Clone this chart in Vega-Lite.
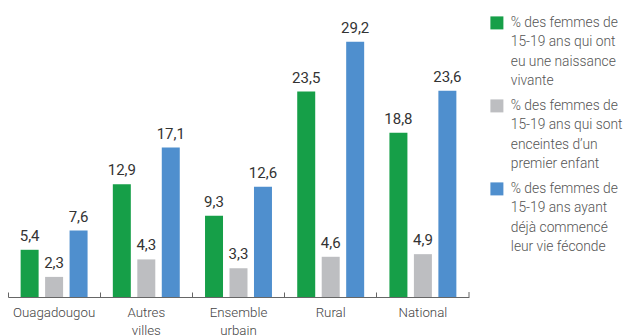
{
  "$schema": "https://vega.github.io/schema/vega-lite/v6.json",
  "width": 461,
  "height": 271,
  "autosize": {"type": "none"},
  "padding": {"left": 8, "top": 26, "right": 158, "bottom": 39},
  "config": {
    "view": {"stroke": null},
    "font": "Roboto",
    "locale": {"number": {"decimal": ",", "thousands": ".", "grouping": [3], "currency": ["", " €"]}}
  },
  "data": {
    "values": [
      {"zone": "Ouagadougou", "serie": "% des femmes de|15-19 ans qui ont|eu une naissance|vivante", "v": 5.4},
      {"zone": "Ouagadougou", "serie": "% des femmes de|15-19 ans qui sont|enceintes d’un|premier enfant", "v": 2.3},
      {"zone": "Ouagadougou", "serie": "% des femmes de|15-19 ans ayant|déjà commencé|leur vie féconde", "v": 7.6},
      {"zone": "Autres villes", "serie": "% des femmes de|15-19 ans qui ont|eu une naissance|vivante", "v": 12.9},
      {"zone": "Autres villes", "serie": "% des femmes de|15-19 ans qui sont|enceintes d’un|premier enfant", "v": 4.3},
      {"zone": "Autres villes", "serie": "% des femmes de|15-19 ans ayant|déjà commencé|leur vie féconde", "v": 17.1},
      {"zone": "Ensemble urbain", "serie": "% des femmes de|15-19 ans qui ont|eu une naissance|vivante", "v": 9.3},
      {"zone": "Ensemble urbain", "serie": "% des femmes de|15-19 ans qui sont|enceintes d’un|premier enfant", "v": 3.3},
      {"zone": "Ensemble urbain", "serie": "% des femmes de|15-19 ans ayant|déjà commencé|leur vie féconde", "v": 12.6},
      {"zone": "Rural", "serie": "% des femmes de|15-19 ans qui ont|eu une naissance|vivante", "v": 23.5},
      {"zone": "Rural", "serie": "% des femmes de|15-19 ans qui sont|enceintes d’un|premier enfant", "v": 4.6},
      {"zone": "Rural", "serie": "% des femmes de|15-19 ans ayant|déjà commencé|leur vie féconde", "v": 29.2},
      {"zone": "National", "serie": "% des femmes de|15-19 ans qui ont|eu une naissance|vivante", "v": 18.8},
      {"zone": "National", "serie": "% des femmes de|15-19 ans qui sont|enceintes d’un|premier enfant", "v": 4.9},
      {"zone": "National", "serie": "% des femmes de|15-19 ans ayant|déjà commencé|leur vie féconde", "v": 23.6}
    ]
  },
  "encoding": {
    "x": {
      "field": "zone",
      "type": "nominal",
      "sort": null,
      "scale": {"paddingInner": 0, "paddingOuter": 0},
      "axis": {
        "title": null,
        "bandPosition": 0,
        "labelAngle": 0,
        "domainColor": "#666666",
        "tickColor": "#666666",
        "tickSize": -5,
        "labelPadding": 13,
        "labelFontSize": 13.3,
        "labelFontWeight": 300,
        "labelColor": "#444444",
        "labelLineHeight": 18,
        "labelExpr": "datum.label == 'Autres villes' ? ['Autres', 'villes'] : datum.label == 'Ensemble urbain' ? ['Ensemble', 'urbain'] : datum.label"
      }
    }
  },
  "layer": [
    {
      "mark": {"type": "bar"},
      "encoding": {
        "xOffset": {"field": "serie", "type": "nominal", "sort": null, "scale": {"paddingInner": 0.265, "paddingOuter": 0.516}},
        "y": {"field": "v", "type": "quantitative", "scale": {"domain": [0, 31], "nice": false}, "axis": null},
        "color": {
          "field": "serie",
          "type": "nominal",
          "sort": null,
          "scale": {
            "domain": [
              "% des femmes de|15-19 ans qui ont|eu une naissance|vivante",
              "% des femmes de|15-19 ans qui sont|enceintes d’un|premier enfant",
              "% des femmes de|15-19 ans ayant|déjà commencé|leur vie féconde"
            ],
            "range": ["#169f48", "#bdbec1", "#4f8fce"]
          },
          "legend": {
            "title": null,
            "orient": "none",
            "legendX": 482,
            "legendY": -10,
            "padding": 0,
            "rowPadding": 9,
            "symbolType": "square",
            "symbolSize": 169,
            "symbolStrokeWidth": 0,
            "labelFontSize": 13.8,
            "labelFontWeight": 300,
            "labelColor": "#555555",
            "labelLimit": 0,
            "labelOffset": 7,
            "labelExpr": "split(datum.label, '|')",
            "encode": {"labels": {"update": {"lineHeight": {"value": 19.5}}}}
          }
        }
      }
    },
    {
      "mark": {"type": "text", "dy": -9, "baseline": "alphabetic", "fontSize": 15, "color": "#333333"},
      "encoding": {
        "xOffset": {"field": "serie", "type": "nominal", "sort": null, "scale": {"paddingInner": 0.265, "paddingOuter": 0.516}},
        "y": {"field": "v", "type": "quantitative", "scale": {"domain": [0, 31], "nice": false}},
        "text": {"field": "v", "type": "quantitative", "format": ".1f"}
      }
    },
    {
      "data": {"values": [{"zone": "National", "tick0": 0, "tick1": 0.57}]},
      "mark": {"type": "rule", "color": "#666666"},
      "encoding": {
        "x": {"field": "zone", "type": "nominal", "bandPosition": 1},
        "y": {"field": "tick0", "type": "quantitative", "scale": {"domain": [0, 31], "nice": false}},
        "y2": {"field": "tick1"}
      }
    }
  ]
}
